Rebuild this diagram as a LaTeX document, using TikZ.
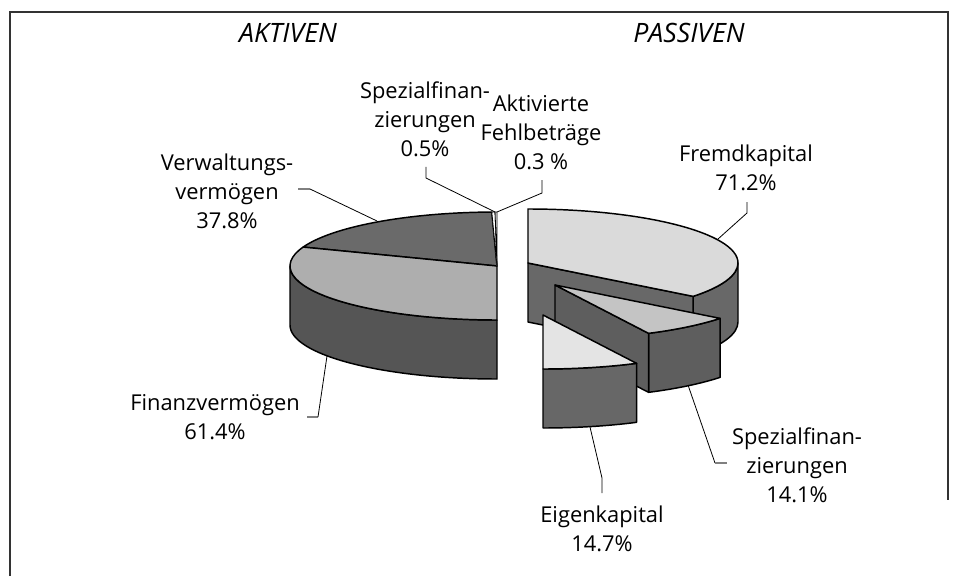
\documentclass[tikz,border=0pt]{standalone}
\usepackage{fontspec}
\setmainfont{Open Sans}
\usetikzlibrary{calc}
\definecolor{cVtop}{HTML}{6A6A6A}
\definecolor{cFtop}{HTML}{AEAEAE}
\definecolor{cLside}{HTML}{555555}
\definecolor{cFKtop}{HTML}{DADADA}
\definecolor{cFKside}{HTML}{686868}
\definecolor{cSPtop}{HTML}{C4C4C4}
\definecolor{cSPside}{HTML}{5E5E5E}
\definecolor{cEKtop}{HTML}{E4E4E4}
\definecolor{cEKside}{HTML}{676767}
\begin{document}
\begin{tikzpicture}[x=0.75pt,y=0.75pt]
\tikzset{
  face/.style={draw=black, line width=1.1pt, line join=round},
  lbl/.style={font=\fontsize{16.4}{21.75}\selectfont, align=center, inner sep=0pt},
  ttl/.style={font=\fontsize{20}{24}\selectfont\itshape, inner sep=0pt},
  leader/.style={draw=black, line width=0.6pt},
  stub/.style={draw=gray, line width=0.8pt},
  frame/.style={draw=black!80, line width=0.8pt},
}
\useasboundingbox (0,0) rectangle (978,576);
\fill[white] (0,0) rectangle (978,576);
% frame
\draw[frame] (10,0) -- (10,564) -- (948,564) -- (948,76);

% ---------- left pie (Aktiven) ----------
\coordinate (CL) at (497,310);
\path[face, fill=cLside] ($(CL)+(180:207 and 54)$) arc[start angle=180, end angle=270, x radius=207, y radius=54]
   -- ++(0,-59) arc[start angle=270, end angle=180, x radius=207, y radius=54] -- cycle;
\path[face, fill=cVtop] (CL) -- ($(CL)+(91.44:207 and 54)$) arc[start angle=91.44, end angle=159.48, x radius=207, y radius=54] -- cycle;
\path[face, fill=cFtop] (CL) -- ($(CL)+(159.48:207 and 54)$) arc[start angle=159.48, end angle=270, x radius=207, y radius=54] -- cycle;
\path[face, fill=white, line width=0.6pt] (CL) -- ($(CL)+(90.54:207 and 54)$) arc[start angle=90.54, end angle=91.44, x radius=207, y radius=54] -- cycle;
\path[face, fill=white, line width=0.6pt] (CL) -- ($(CL)+(90:207 and 54)$) arc[start angle=90, end angle=90.54, x radius=207, y radius=54] -- cycle;

% ---------- right pie (Passiven) ----------
% Fremdkapital
\coordinate (CF) at (528,313);
\path[face, fill=cFKside] ($(CF)+(-38.16:210 and 54)$) arc[start angle=-38.16, end angle=0, x radius=210, y radius=54]
   -- ++(0,-59) arc[start angle=0, end angle=-38.16, x radius=210, y radius=54] -- cycle;
\path[face, fill=cFKside] (CF) -- ($(CF)+(-38.16:210 and 54)$) -- ++(0,-59) -- ($(CF)+(0,-59)$) -- cycle;
\path[face, fill=cFKtop] (CF) -- ($(CF)+(90:210 and 54)$) arc[start angle=90, end angle=-38.16, x radius=210, y radius=54] -- cycle;
% Spezialfinanzierungen
\coordinate (CS) at (555,291);
\path[face, fill=cSPside] ($(CS)+(-63.54:210 and 54)$) arc[start angle=-63.54, end angle=-38.16, x radius=210, y radius=54]
   -- ++(0,-59) arc[start angle=-38.16, end angle=-63.54, x radius=210, y radius=54] -- cycle;
\path[face, fill=cSPside] (CS) -- ($(CS)+(-63.54:210 and 54)$) -- ++(0,-59) -- ($(CS)+(0,-59)$) -- cycle;
\path[face, fill=cSPtop] (CS) -- ($(CS)+(-38.16:210 and 54)$) arc[start angle=-38.16, end angle=-63.54, x radius=210, y radius=54] -- cycle;
% Eigenkapital
\coordinate (CE) at (543,261);
\path[face, fill=cEKside] ($(CE)+(-90:210 and 54)$) arc[start angle=-90, end angle=-63.54, x radius=210, y radius=54]
   -- ++(0,-59) arc[start angle=-63.54, end angle=-90, x radius=210, y radius=54] -- cycle;
\path[face, fill=cEKtop] (CE) -- ($(CE)+(-63.54:210 and 54)$) arc[start angle=-63.54, end angle=-90, x radius=210, y radius=54] -- cycle;

% ---------- titles ----------
\node[ttl] (tA) at (288,543) {AKTIVEN};
\node[ttl] (tP) at (689,543) {PASSIVEN};

% ---------- labels ----------
\node[lbl] (lSpL) at (425,457) {Spezialfinan-\\zierungen\\0.5\%};
\node[lbl] (lAk) at (541,444) {Aktivierte\\Fehlbeträge\\0.3 \%};
\node[lbl] (lVw) at (227,385) {Verwaltungs-\\vermögen\\37.8\%};
\node[lbl] (lFi) at (215,159) {Finanzvermögen\\61.4\%};
\node[lbl] (lFk) at (746,408) {Fremdkapital\\71.2\%};
\node[lbl] (lSpR) at (797,111) {Spezialfinan-\\zierungen\\14.1\%};
\node[lbl] (lEk) at (602,47) {Eigenkapital\\14.7\%};

% ---------- leader lines ----------
\coordinate (vw1) at (298,387); \coordinate (vw2) at (310,387); \coordinate (vw3) at (377,355);
\draw[stub] (vw1) -- (vw2); \draw[leader] (vw2) -- (vw3);
\coordinate (fi1) at (307,159); \coordinate (fi2) at (318,159); \coordinate (fi3) at (327,220);
\draw[stub] (fi1) -- (fi2); \draw[leader] (fi2) -- (fi3);
\coordinate (sl1) at (426,409); \coordinate (sl2) at (426,398); \coordinate (sl3) at (495,364);
\draw[leader] (sl1) -- (sl2) -- (sl3);
\coordinate (ak1) at (542,396); \coordinate (ak2) at (542,383); \coordinate (ak3) at (497,364);
\draw[leader] (ak1) -- (ak2) -- (ak3);
\coordinate (fk1) at (747,374); \coordinate (fk2) at (747,363); \coordinate (fk3) at (718,337);
\draw[leader] (fk1) -- (fk2) -- (fk3);
\coordinate (sr1) at (688,191); \coordinate (sr2) at (715,113); \coordinate (sr3) at (727,113);
\draw[leader] (sr1) -- (sr2); \draw[stub] (sr2) -- (sr3);
\coordinate (ek1) at (590,149); \coordinate (ek2) at (602,98); \coordinate (ek3) at (602,83);
\draw[leader] (ek1) -- (ek2) -- (ek3);
\end{tikzpicture}
\end{document}
